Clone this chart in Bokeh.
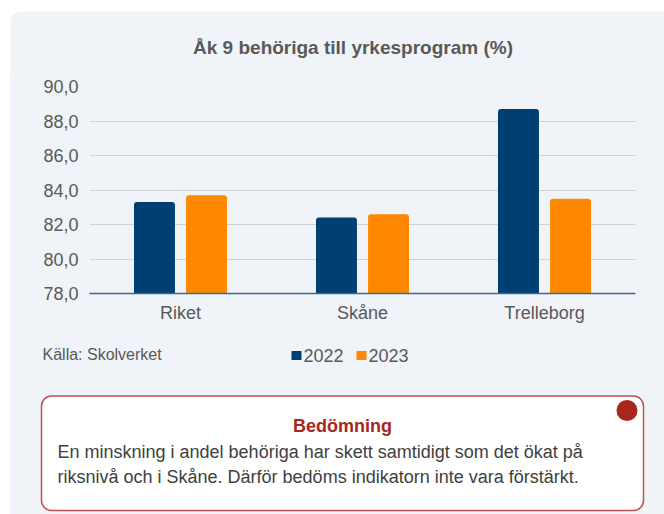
from bokeh.plotting import figure
from bokeh.models import (ColumnDataSource, FactorRange, FixedTicker, Label,
                          BoxAnnotation, Range1d, Spacer)
from bokeh.layouts import column, row
from bokeh.transform import dodge
from bokeh.embed import file_html
from bokeh.resources import INLINE

# ---- data ----
categories = ["Riket", "Skåne", "Trelleborg"]
values_2022 = [83.3, 82.4, 88.7]
values_2023 = [83.7, 82.6, 83.5]
series_names = ["2022", "2023"]
y_ticks = [78, 80, 82, 84, 86, 88, 90]
y_tick_labels = ["78,0", "80,0", "82,0", "84,0", "86,0", "88,0", "90,0"]
title_text = "Åk 9 behöriga till yrkesprogram (%)"
source_text = "Källa: Skolverket"
box_title = "Bedömning"
box_lines = ["En minskning i andel behöriga har skett samtidigt som det ökat på",
             "riksnivå och i Skåne. Därför bedöms indikatorn inte vara förstärkt."]

FONT = "Liberation Sans"
PANEL = "#f0f4f8"
SERIES_COLORS = ["#003f72", "#ff8800"]
GREY = "#595959"
RED = "#a8261e"


def deco_figure(w, h, x0, x1, y_top, y_bottom, fill):
    f = figure(width=w, height=h, x_range=Range1d(x0, x1),
               y_range=Range1d(y_bottom, y_top), output_backend="svg",
               toolbar_location=None, x_axis_location=None,
               y_axis_location=None, min_border=0, frame_align=False)
    f.grid.visible = False
    f.outline_line_color = None
    f.border_fill_color = fill
    f.background_fill_color = fill
    return f


def lab(text, x, y, size, color, bold=False, align="left"):
    return Label(text=text, x=x, y=y, text_font=FONT, text_font_size=size,
                 text_color=color, text_font_style="bold" if bold else "normal",
                 text_align=align, text_baseline="middle")


def box(l, r, t, b, fill, line=None, lw=1, radius=0):
    return BoxAnnotation(left=l, right=r, top=t, bottom=b, fill_color=fill,
                         fill_alpha=1, line_color=line, line_width=lw,
                         line_alpha=1, border_radius=radius, editable=False)


# ---- top strip with title (page coords) ----
top = deco_figure(664, 70, 0, 664, 0, 70, "white")
top.add_layout(box(10, 720, 11, 120, PANEL, radius=10))
top.add_layout(lab(title_text, 352.5, 47, "19px", GREY, bold=True, align="center"))

# ---- chart ----
src = ColumnDataSource(dict(cat=categories, v2022=values_2022, v2023=values_2023,
                            base=[y_ticks[0]] * len(categories)))

p = figure(width=654, height=270, x_range=FactorRange(*categories),
           y_range=(y_ticks[0], y_ticks[-1]), output_backend="svg",
           toolbar_location=None, min_border_left=79, min_border_right=29,
           min_border_top=16, min_border_bottom=47, frame_align=False)
p.border_fill_color = PANEL
p.background_fill_color = PANEL
p.outline_line_color = None

p.vbar(x=dodge("cat", -0.143, range=p.x_range), top="v2022", bottom="base",
       width=0.225, source=src, fill_color=SERIES_COLORS[0], line_color=None,
       border_radius=(3, 3, 0, 0))
p.vbar(x=dodge("cat", 0.143, range=p.x_range), top="v2023", bottom="base",
       width=0.225, source=src, fill_color=SERIES_COLORS[1], line_color=None,
       border_radius=(3, 3, 0, 0))

p.yaxis.ticker = FixedTicker(ticks=y_ticks)
p.yaxis.major_label_overrides = {t: l for t, l in zip(y_ticks, y_tick_labels)}
p.yaxis.axis_line_color = None
p.yaxis.major_tick_line_color = None
p.yaxis.minor_tick_line_color = None
p.yaxis.major_tick_out = 0
p.yaxis.major_tick_in = 0
p.yaxis.major_label_standoff = 11
p.yaxis.major_label_text_font = FONT
p.yaxis.major_label_text_font_size = "18px"
p.yaxis.major_label_text_color = GREY

p.xaxis.axis_line_color = "#35679a"
p.xaxis.axis_line_width = 1.5
p.xaxis.major_tick_line_color = None
p.xaxis.minor_tick_line_color = None
p.xaxis.major_tick_out = 0
p.xaxis.major_tick_in = 0
p.xaxis.major_label_standoff = 9
p.xaxis.major_label_text_font = FONT
p.xaxis.major_label_text_font_size = "18px"
p.xaxis.major_label_text_color = GREY

p.xgrid.grid_line_color = None
p.ygrid.grid_line_color = "#cdd0d4"
p.ygrid.grid_line_width = 1

# ---- footer: source, legend, assessment box (page coords) ----
foot = deco_figure(654, 174, 10, 664, 340, 514, PANEL)
foot.add_layout(lab(source_text, 42, 354, "16px", GREY))
# legend keys
foot.add_layout(box(291, 301, 350.5, 359.5, SERIES_COLORS[0]))
foot.add_layout(lab(series_names[0], 303, 354.5, "18px", GREY))
foot.add_layout(box(356, 366, 350.5, 359.5, SERIES_COLORS[1]))
foot.add_layout(lab(series_names[1], 368, 354.5, "18px", GREY))
# assessment box
foot.add_layout(box(41, 643, 395.5, 510, "white", line="#c0504d", lw=1.5, radius=10))
foot.add_layout(box(616, 637, 399.5, 420.5, RED, radius=11))
foot.add_layout(lab(box_title, 342, 425, "18px", RED, bold=True, align="center"))
foot.add_layout(lab(box_lines[0], 57, 451, "18px", "#404040"))
foot.add_layout(lab(box_lines[1], 57, 476, "18px", "#404040"))

left_pad = Spacer(width=10, height=444, styles={"background-color": "white"})
layout = column(top,
                row(left_pad, column(p, foot, spacing=0,
                                     styles={"background-color": PANEL}),
                    spacing=0),
                spacing=0)

open("out.html", "w").write(file_html(layout, INLINE))
